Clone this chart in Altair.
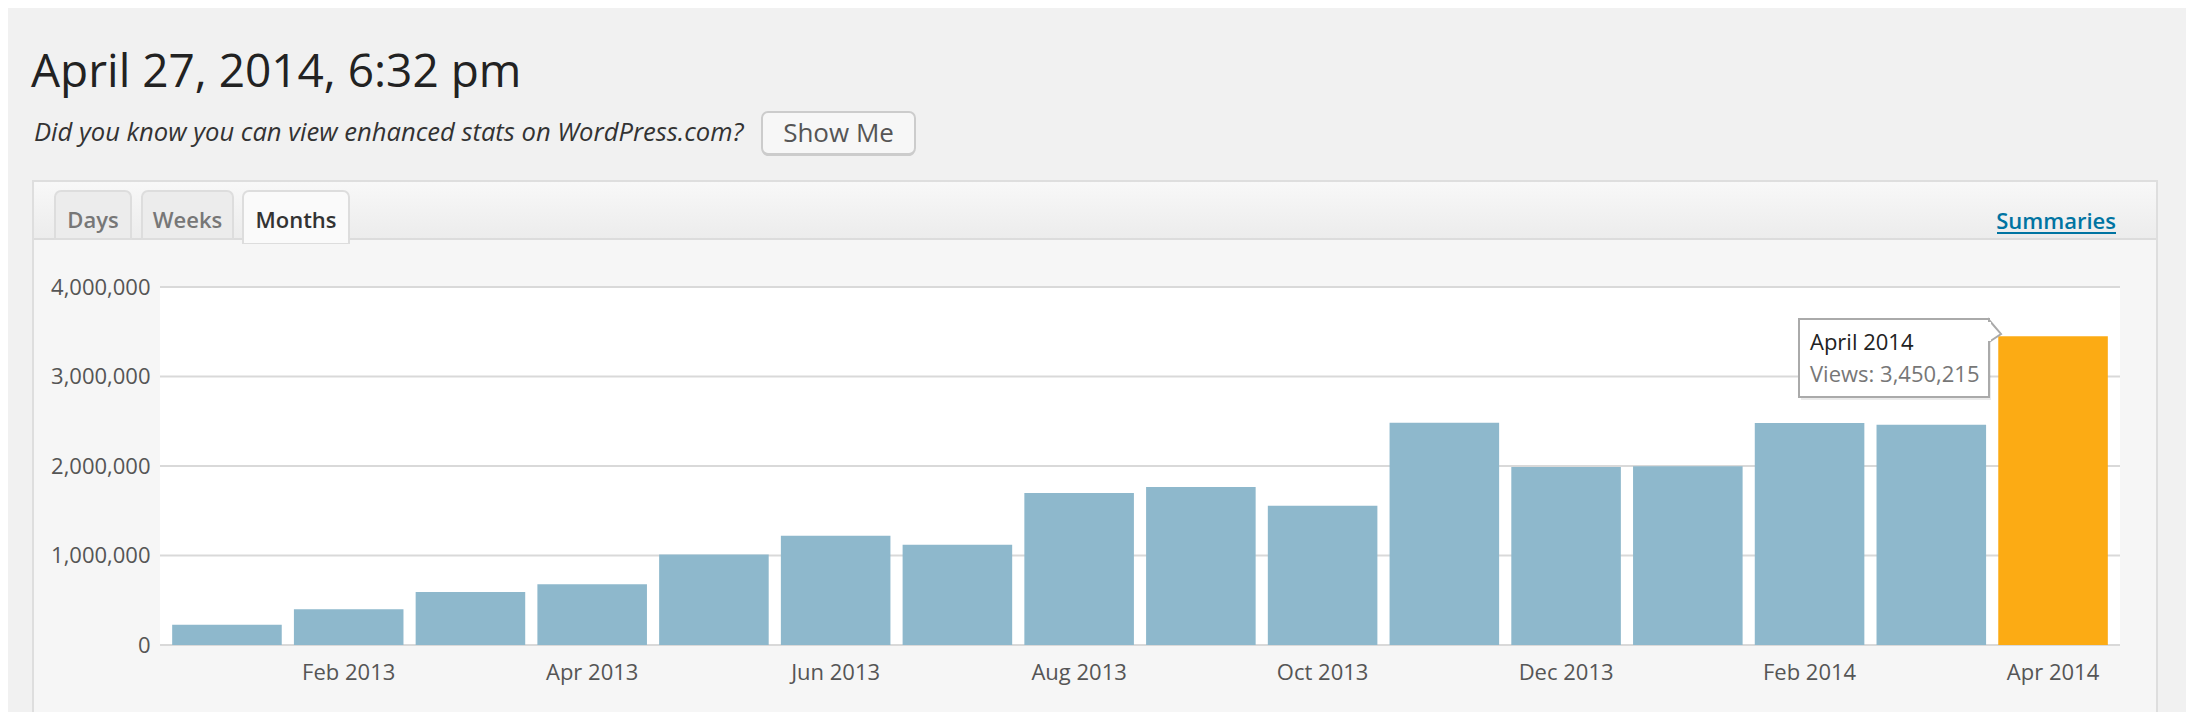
import altair as alt
import pandas as pd

# ---------------- data ----------------
months = ["Jan 2013", "Feb 2013", "Mar 2013", "Apr 2013", "May 2013", "Jun 2013",
          "Jul 2013", "Aug 2013", "Sep 2013", "Oct 2013", "Nov 2013", "Dec 2013",
          "Jan 2014", "Feb 2014", "Mar 2014", "Apr 2014"]
views = [226000, 400000, 593000, 679000, 1011000, 1220000,
         1119000, 1697000, 1764000, 1556000, 2483000, 1988000,
         1996000, 2481000, 2462000, 3450215]
tick_months = ["Feb 2013", "Apr 2013", "Jun 2013", "Aug 2013",
               "Oct 2013", "Dec 2013", "Feb 2014", "Apr 2014"]
y_ticks = [0, 1000000, 2000000, 3000000, 4000000]
highlight = "Apr 2014"

df = pd.DataFrame({"month": months, "views": views})
grid_df = pd.DataFrame({"v": y_ticks})

FONT = "Open Sans"
BLUE = "#8eb8cc"
ORANGE = "#fcab14"
W, H = 1960, 358

one = alt.Data(values=[{"_": 0}])

yscale = alt.Scale(domain=[0, 4000000], nice=False)
yaxis = alt.Axis(values=y_ticks, format=",d", title=None, grid=False, ticks=False,
                 domain=False, labelFontSize=22, labelColor="#555", labelFont=FONT,
                 labelPadding=10, zindex=1)


def box(x, x2, y, y2, **kw):
    return alt.Chart(one).mark_rect(**kw).encode(
        x=alt.value(x), x2=alt.value(x2), y=alt.value(y), y2=alt.value(y2))


def label(txt, x, y, **kw):
    kw.setdefault("font", FONT)
    kw.setdefault("baseline", "alphabetic")
    return alt.Chart(one).mark_text(text=txt, **kw).encode(x=alt.value(x), y=alt.value(y))


# ---------------- page decorations ----------------
top_strip = box(-128, 586, -307, -285, fill="#fafafa", stroke="#dcdcdc", strokeWidth=2)
title = label("April 27, 2014, 6:32 pm", -129, -200, fontSize=46, color="#222", align="left")
subtitle = label("Did you know you can view enhanced stats on WordPress.com?", -126, -146,
                 fontSize=25.6, fontStyle="italic", color="#333", align="left")
btn_shadow = box(602, 755, -173, -131, fill="#cccccc", cornerRadius=6)
btn = box(602, 755, -175, -133, fill="#f7f7f7", stroke="#cccccc", strokeWidth=2, cornerRadius=6)
btn_text = label("Show Me", 678.5, -145, fontSize=26, color="#555", align="center")

panel = box(-127, 1997, -106, 470, fill="#f6f6f6", stroke="#dedede", strokeWidth=2)
header = box(-126, 1996, -105, -48,
             fill=alt.Gradient(gradient="linear",
                               stops=[alt.GradientStop(color="#f8f8f8", offset=0),
                                      alt.GradientStop(color="#ececec", offset=1)],
                               x1=0, x2=0, y1=0, y2=1))
header_line = box(-126, 1996, -49, -47, fill="#dcdcdc")

tab_days = box(-105, -29, -96, -48, fill="#ececec", stroke="#dddddd", strokeWidth=2,
               cornerRadiusTopLeft=6, cornerRadiusTopRight=6)
tab_weeks = box(-18, 73, -96, -48, fill="#ececec", stroke="#dddddd", strokeWidth=2,
                cornerRadiusTopLeft=6, cornerRadiusTopRight=6)
tab_months = box(83, 189, -96, -44, fill="#fafafa", stroke="#dddddd", strokeWidth=2,
                 cornerRadiusTopLeft=6, cornerRadiusTopRight=6)
tab_months_cover = box(84, 188, -50, -44, fill="#fafafa")
t_days = label("Days", -67, -59, fontSize=22, fontWeight=600, color="#777", align="center")
t_weeks = label("Weeks", 27.5, -59, fontSize=22, fontWeight=600, color="#777", align="center")
t_months = label("Months", 136, -59, fontSize=22, fontWeight=600, color="#333", align="center")
summaries = label("Summaries", 1956, -58, fontSize=22, fontWeight=600, color="#0074a2", align="right")
summaries_ul = box(1837, 1956, -55, -53, fill="#0074a2")

plot_bg = box(0, W, 0, H, fill="white")

# ---------------- chart ----------------
grid = alt.Chart(grid_df).mark_rule(color="#d9d9d9", strokeWidth=2).encode(
    y=alt.Y("v:Q", scale=yscale, axis=yaxis))

bars = alt.Chart(df).mark_bar().encode(
    x=alt.X("month:N", sort=months,
            scale=alt.Scale(paddingInner=0.1, paddingOuter=0.1),
            axis=alt.Axis(values=tick_months, title=None, labelAngle=0, ticks=False,
                          domain=False, grid=False, labelFontSize=22, labelColor="#555",
                          labelFont=FONT, labelPadding=17, zindex=1)),
    y=alt.Y("views:Q", scale=yscale, axis=yaxis),
    color=alt.condition(alt.datum.month == highlight, alt.value(ORANGE), alt.value(BLUE)),
)

# tooltip callout
tip_shadow = box(1641, 1831, 35, 113, fill="#000000", opacity=0.08)
tip_box = box(1639, 1829, 32, 110, fill="white", stroke="#aaaaaa", strokeWidth=2)
tip_arrow = alt.Chart(one).mark_point(
    shape="M0,-1L1.09,0.27L0,1Z", size=484, filled=True, fill="white",
    stroke="#aaaaaa", strokeWidth=2, opacity=1).encode(x=alt.value(1829), y=alt.value(44))
tip_arrow_cover = box(1827, 1831, 35, 54, fill="white")
tip_t1 = label("April 2014", 1650, 63, fontSize=22, color="#222", align="left")
tip_t2 = label("Views: 3,450,215", 1650, 95, fontSize=22, color="#777", align="left")

chart = alt.layer(
    top_strip, title, subtitle, btn_shadow, btn, btn_text,
    panel, header, header_line, tab_days, tab_weeks, tab_months, tab_months_cover,
    t_days, t_weeks, t_months, summaries, summaries_ul,
    plot_bg, grid, bars,
    tip_shadow, tip_box, tip_arrow, tip_arrow_cover, tip_t1, tip_t2,
).properties(
    width=W, height=H,
    padding={"left": 152, "top": 279, "right": 66, "bottom": 67},
    autosize=alt.AutoSizeParams(type="none"),
    background="#f1f1f1",
).configure_view(stroke=None).configure(font=FONT)

chart.save("out.html", embed_options={"renderer": "svg", "actions": False})
